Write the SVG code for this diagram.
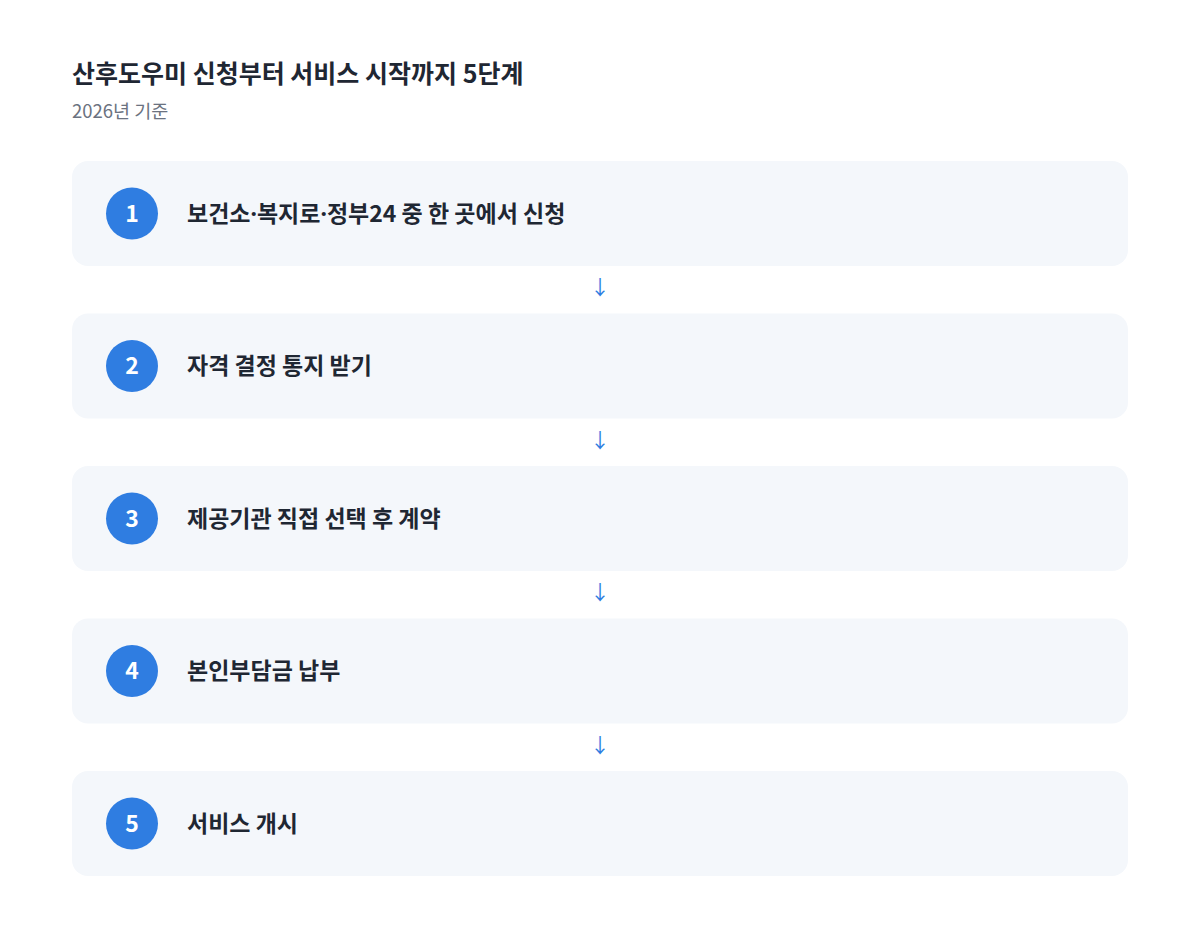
<svg xmlns="http://www.w3.org/2000/svg" width="1200" height="948" viewBox="0 0 1200 948">
<style>
.card{fill:#f4f7fb}
.num{fill:#2f7de1}
.numt{font-family:"Noto Sans CJK KR","Noto Sans",sans-serif;font-weight:700;font-size:23px;fill:#ffffff;text-anchor:middle}
.lbl{font-family:"Noto Sans CJK KR",sans-serif;font-weight:700;font-size:23px;fill:#1f2733}
.dot{font-family:"Noto Sans",sans-serif}
.arr{font-family:"Noto Sans CJK KR","DejaVu Sans",sans-serif;font-size:20px;fill:#2f7de1;text-anchor:middle}
</style>
<rect width="1200" height="948" fill="#ffffff"/>
<text x="72" y="83" font-family="Noto Sans CJK KR, sans-serif" font-weight="700" font-size="25" fill="#1f2733">산후도우미 신청부터 서비스 시작까지 5단계</text>
<text x="72" y="118" font-family="Noto Sans CJK KR, sans-serif" font-size="18.5" fill="#6b7280">2026년 기준</text>
<g id="step1"><rect class="card" x="72" y="161" width="1056" height="105" rx="16"/><circle class="num" cx="132" cy="213.5" r="26"/><text class="numt" x="132" y="221.5">1</text><text class="lbl" x="187" y="221.5">보건소<tspan class="dot">·</tspan>복지로<tspan class="dot">·</tspan>정부24 중 한 곳에서 신청</text></g>
<g id="step2"><rect class="card" x="72" y="313.5" width="1056" height="105" rx="16"/><circle class="num" cx="132" cy="366" r="26"/><text class="numt" x="132" y="374">2</text><text class="lbl" x="187" y="374">자격 결정 통지 받기</text></g>
<g id="step3"><rect class="card" x="72" y="466" width="1056" height="105" rx="16"/><circle class="num" cx="132" cy="518.5" r="26"/><text class="numt" x="132" y="526.5">3</text><text class="lbl" x="187" y="526.5">제공기관 직접 선택 후 계약</text></g>
<g id="step4"><rect class="card" x="72" y="618.5" width="1056" height="105" rx="16"/><circle class="num" cx="132" cy="671" r="26"/><text class="numt" x="132" y="679">4</text><text class="lbl" x="187" y="679">본인부담금 납부</text></g>
<g id="step5"><rect class="card" x="72" y="771" width="1056" height="105" rx="16"/><circle class="num" cx="132" cy="823.5" r="26"/><text class="numt" x="132" y="831.5">5</text><text class="lbl" x="187" y="831.5">서비스 개시</text></g>
<g id="connectors">
<text class="arr" x="600" y="295">↓</text>
<text class="arr" x="600" y="447.5">↓</text>
<text class="arr" x="600" y="600">↓</text>
<text class="arr" x="600" y="752.5">↓</text>
</g>
</svg>
